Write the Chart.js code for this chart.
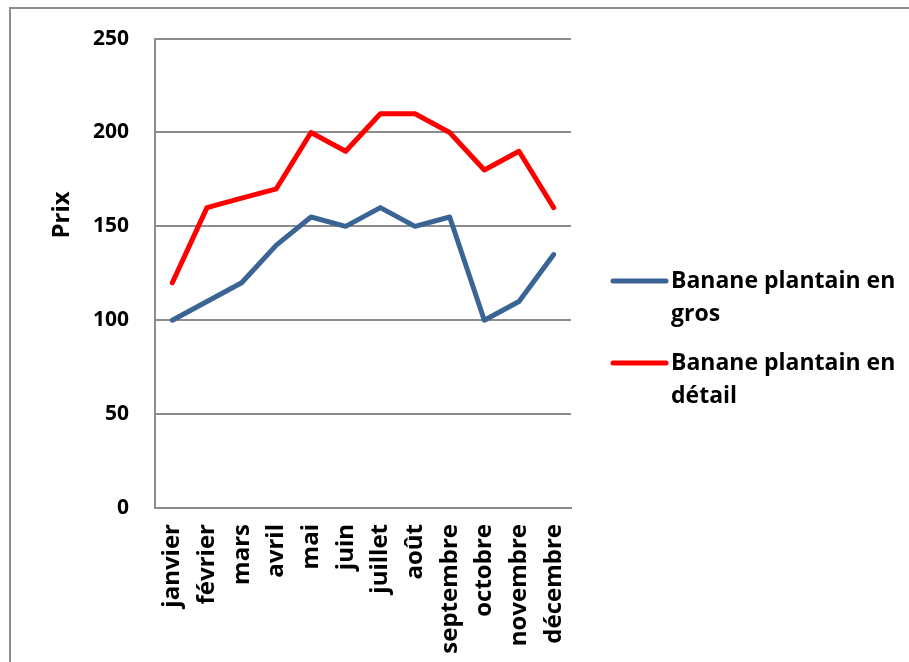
<!DOCTYPE html>
<html>
<head>
    <meta charset="utf-8" />
    <title>Prix banane plantain</title>
    <script src="https://cdn.jsdelivr.net/npm/chart.js"></script>
    <style>
        html, body { margin: 0; padding: 0; background: #fff; }
        #wrap { width: 909px; height: 662px; }
    </style>
</head>
<body>
    <div id="wrap">
        <canvas id="myChart" width="909" height="662"></canvas>
    </div>

    <script>
        // donnees
        const mois = ['janvier', 'février', 'mars', 'avril', 'mai', 'juin',
            'juillet', 'août', 'septembre', 'octobre', 'novembre', 'décembre'];
        const prixGros = [100, 110, 120, 140, 155, 150, 160, 150, 155, 100, 110, 135];
        const prixDetail = [120, 160, 165, 170, 200, 190, 210, 210, 200, 180, 190, 160];
        const nomsSeries = [['Banane plantain en', 'gros'], ['Banane plantain en', 'détail']];
        const titreY = 'Prix';

        const police = '"Open Sans", Lato, sans-serif';

        // cadre, titre de l'axe et legende dessines a la main
        const decor = {
            id: 'decor',
            beforeDraw(chart) {
                const ctx = chart.ctx;
                ctx.save();
                ctx.fillStyle = '#fff';
                ctx.fillRect(0, 0, chart.width, chart.height);
                ctx.strokeStyle = '#8c8c8c';
                ctx.lineWidth = 2;
                ctx.strokeRect(10, 8, 1000, 1000);
                ctx.restore();
            },
            afterDraw(chart) {
                const ctx = chart.ctx;
                ctx.save();
                ctx.fillStyle = '#000';
                ctx.font = 'bold 24px ' + police;
                ctx.textAlign = 'center';
                ctx.textBaseline = 'middle';
                ctx.translate(62, 215);
                ctx.rotate(-Math.PI / 2);
                ctx.fillText(titreY, 0, 0);
                ctx.restore();

                ctx.save();
                ctx.font = 'bold 23px ' + police;
                ctx.textAlign = 'left';
                ctx.textBaseline = 'middle';
                let y = 281;
                chart.data.datasets.forEach(function (ds, i) {
                    ctx.strokeStyle = ds.borderColor;
                    ctx.lineWidth = 5;
                    ctx.lineCap = 'round';
                    ctx.beginPath();
                    ctx.moveTo(613, y);
                    ctx.lineTo(666, y);
                    ctx.stroke();
                    ctx.fillStyle = '#000';
                    nomsSeries[i].forEach(function (ligne, j) {
                        ctx.fillText(ligne, 671, y + j * 33);
                    });
                    y += 82;
                });
                ctx.restore();
            }
        };

        const data = {
            labels: mois,
            datasets: [{
                label: nomsSeries[0].join(' '),
                data: prixGros,
                borderColor: '#3a6494',
                backgroundColor: '#3a6494',
                borderWidth: 5,
                borderCapStyle: 'round',
                borderJoinStyle: 'round',
                pointRadius: 0,
                tension: 0
            }, {
                label: nomsSeries[1].join(' '),
                data: prixDetail,
                borderColor: '#ff0000',
                backgroundColor: '#ff0000',
                borderWidth: 5,
                borderCapStyle: 'round',
                borderJoinStyle: 'round',
                pointRadius: 0,
                tension: 0
            }]
        };

        const config = {
            type: 'line',
            data,
            options: {
                responsive: false,
                animation: false,
                layout: { padding: { top: 38, right: 338, left: 0, bottom: 0 } },
                plugins: { legend: { display: false }, tooltip: { enabled: false } },
                scales: {
                    x: {
                        offset: true,
                        grid: { display: false, drawTicks: false },
                        border: { color: '#8c8c8c', width: 2 },
                        ticks: {
                            color: '#000',
                            font: { family: police, size: 24, weight: 'bold' },
                            minRotation: 90,
                            maxRotation: 90,
                            padding: 16,
                            autoSkip: false
                        },
                        afterFit(scale) { scale.height = 154; }
                    },
                    y: {
                        min: 0,
                        max: 250,
                        ticks: {
                            stepSize: 50,
                            color: '#000',
                            font: { family: police, size: 21, weight: 'bold' },
                            padding: 26
                        },
                        grid: { color: '#8c8c8c', lineWidth: 2, drawTicks: false },
                        border: { color: '#8c8c8c', width: 2 },
                        afterFit(scale) { scale.width = 155; }
                    }
                }
            },
            plugins: [decor]
        };

        var myChart = new Chart(document.getElementById('myChart'), config);
    </script>
</body>
</html>
